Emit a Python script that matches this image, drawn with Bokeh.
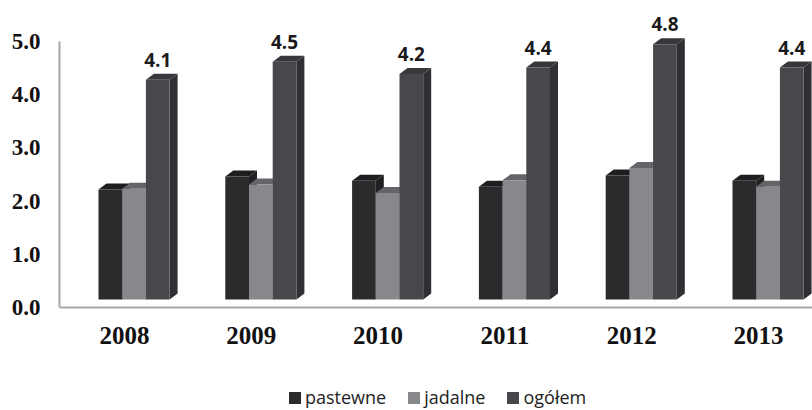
from bokeh.embed import file_html
from bokeh.resources import INLINE
from bokeh.plotting import figure
from bokeh.models import ColumnDataSource, FixedTicker, Legend, LegendItem, NumeralTickFormatter, Range1d
from bokeh.core.properties import value

years = [2008, 2009, 2010, 2011, 2012, 2013]
pastewne = [2.07, 2.31, 2.23, 2.12, 2.33, 2.23]
jadalne = [2.08, 2.16, 2.00, 2.24, 2.47, 2.12]
ogolem = [4.13, 4.47, 4.24, 4.36, 4.80, 4.36]
labels = ["4.1", "4.5", "4.2", "4.4", "4.8", "4.4"]
series_names = ["pastewne", "jadalne", "ogółem"]
y_ticks = [0, 1, 2, 3, 4, 5]

front = ["#2a2b2d", "#87888c", "#47484c"]
top = ["#1d1e20", "#646568", "#36383b"]
side = ["#1f2022", "#5c5d60", "#2f3033"]

px_x = 126.8
px_y = 53.2
frame_w = 753
frame_h = 410
zero_from_top = 307

p = figure(width=812, height=410, output_backend="svg", toolbar_location=None,
           frame_width=frame_w, frame_height=frame_h,
           x_range=Range1d(2008 - 65 / px_x, 2008 - 65 / px_x + frame_w / px_x),
           y_range=Range1d(-(frame_h - zero_from_top) / px_y, zero_from_top / px_y),
           min_border_left=59, min_border_right=0, min_border_top=0, min_border_bottom=0)
p.outline_line_color = None
p.background_fill_color = "white"
p.grid.visible = False

bw = 23.7 / px_x
dx = 8 / px_x
dy = 6 / px_y
base = 8 / px_y
start = -26 / px_x

legend_items = []
for s, vals in enumerate([pastewne, jadalne, ogolem]):
    lefts = [y + start + s * bw for y in years]
    rights = [l + bw for l in lefts]
    tops = [base + v for v in vals]
    side_x = [[r, r + dx, r + dx, r] for r in rights]
    side_y = [[base, base + dy, t + dy, t] for t in tops]
    top_x = [[l, l + dx, r + dx, r] for l, r in zip(lefts, rights)]
    top_y = [[t, t + dy, t + dy, t] for t in tops]
    p.patches(side_x, side_y, fill_color=side[s], line_color=None)
    p.patches(top_x, top_y, fill_color=top[s], line_color=None)
    r = p.quad(left=lefts, right=rights, bottom=[base] * 6, top=tops,
               fill_color=front[s], line_color=None)
    legend_items.append(LegendItem(label=series_names[s], renderers=[r]))

src = ColumnDataSource(dict(
    x=[y + start + 2.5 * bw for y in years],
    y=[base + v for v in ogolem],
    t=labels))
p.text("x", "y", text="t", source=src, text_align="center", text_baseline="middle",
       y_offset=-20, text_font=value("Open Sans"), text_font_style="bold",
       text_font_size="19px", text_color="#1a1a1a")

p.xaxis.ticker = FixedTicker(ticks=years)
p.yaxis.ticker = FixedTicker(ticks=y_ticks)
p.yaxis.formatter = NumeralTickFormatter(format="0.0")
p.xaxis.formatter = NumeralTickFormatter(format="0")
p.yaxis.bounds = (0, 5)
p.xaxis.fixed_location = 0
for ax in (p.xaxis[0], p.yaxis[0]):
    ax.axis_line_color = "#a6a8ab"
    ax.axis_line_width = 2
    ax.major_tick_line_color = None
    ax.minor_tick_line_color = None
    ax.major_tick_in = 0
    ax.major_tick_out = 0
    ax.major_label_text_font = "Liberation Serif"
    ax.major_label_text_font_style = "bold"
    ax.major_label_text_color = "#111111"
p.xaxis.major_label_text_font_size = "25px"
p.yaxis.major_label_text_font_size = "23px"
p.xaxis.major_label_standoff = 19
p.yaxis.major_label_standoff = 19

legend = Legend(items=legend_items, orientation="horizontal", location=(228, 1),
                background_fill_alpha=0, border_line_color=None,
                glyph_width=15, glyph_height=15, label_text_font="Open Sans",
                label_text_font_size="18px", label_text_color="#222222",
                spacing=20, padding=0, margin=0, label_standoff=3, label_height=16)
p.add_layout(legend, "center")

open("out.html", "w").write(file_html(p, INLINE))
